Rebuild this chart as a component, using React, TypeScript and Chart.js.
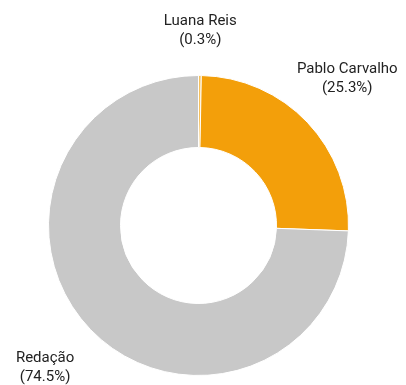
import React, { useEffect, useRef } from "react";
import { Chart, registerables } from "chart.js";

Chart.register(...registerables);

const categories = ["Luana Reis", "Pablo Carvalho", "Redação"];
const shares = [0.3, 25.3, 74.5];
const colors = ["#F6C15E", "#F39F0A", "#C8C8C8"];

const labelPlugin = {
  id: "outerLabels",
  afterDatasetsDraw(chart: any) {
    const ctx = chart.ctx;
    const meta = chart.getDatasetMeta(0);
    ctx.save();
    ctx.font = "15px Roboto";
    ctx.fillStyle = "#222222";
    ctx.textAlign = "center";
    ctx.textBaseline = "middle";
    meta.data.forEach((arc: any, i: number) => {
      const p = arc.getProps(["x", "y", "startAngle", "endAngle", "outerRadius"], true);
      const mid = (p.startAngle + p.endAngle) / 2;
      const s = Math.abs(Math.sin(2 * mid));
      const D = p.outerRadius + 45 + 14 * s;
      const cx = p.x + Math.cos(mid) * D - 3 * s;
      const cy = p.y + Math.sin(mid) * D - 3.5 * s;
      ctx.fillText(categories[i], cx, cy - 9);
      ctx.fillText("(" + shares[i].toFixed(1) + "%)", cx, cy + 10);
    });
    ctx.restore();
  },
};

export default function App() {
  const ref = useRef<HTMLCanvasElement | null>(null);
  useEffect(() => {
    if (!ref.current) return;
    const chart = new Chart(ref.current, {
      type: "doughnut",
      data: {
        labels: categories,
        datasets: [
          {
            data: shares,
            backgroundColor: colors,
            borderColor: "#ffffff",
            borderWidth: 1,
          },
        ],
      },
      options: {
        animation: false,
        responsive: false,
        cutout: "52%",
        layout: { padding: { left: 48, right: 57, top: 75, bottom: 9 } },
        plugins: {
          legend: { display: false },
          tooltip: { enabled: false },
        },
      },
      plugins: [labelPlugin],
    });
    return () => chart.destroy();
  }, []);
  return (
    <div style={{ position: "absolute", left: 0, top: 0, width: 406, height: 385, background: "#fff" }}>
      <canvas ref={ref} width={406} height={385} style={{ width: 406, height: 385 }} />
    </div>
  );
}
